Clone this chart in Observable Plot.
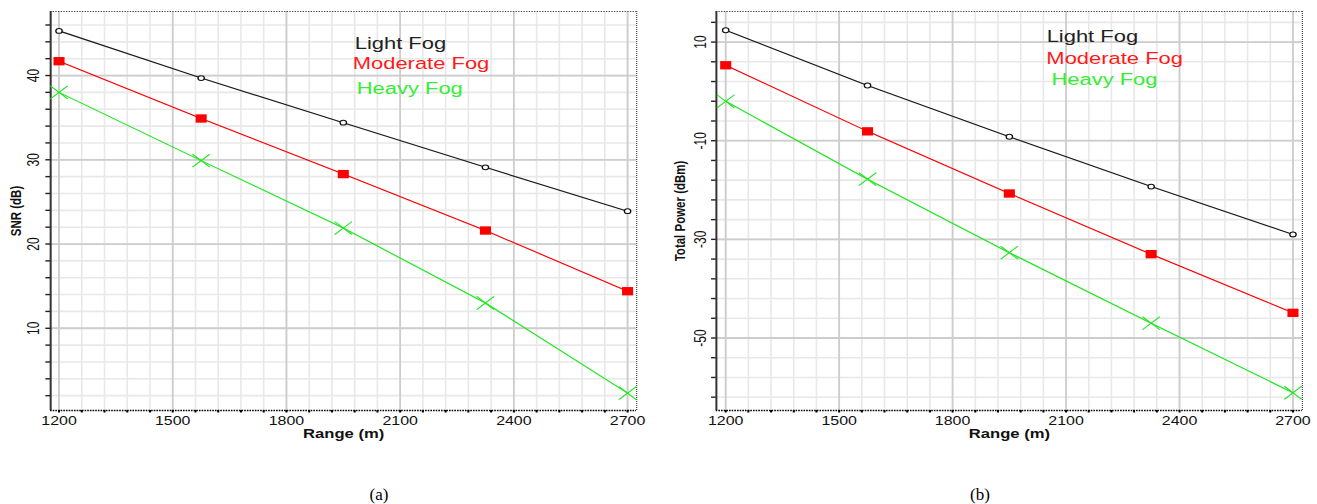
<!DOCTYPE html>
<html>
<head>
<meta charset="utf-8">
<script src="https://cdn.jsdelivr.net/npm/d3@7"></script>
<script src="https://cdn.jsdelivr.net/npm/@observablehq/plot@0.6"></script>
<style>
  html, body { margin: 0; padding: 0; background: #fff; width: 1317px; height: 504px; overflow: hidden; }
  .panel { position: absolute; top: 0; }
  .caption { position: absolute; font-family: "Liberation Serif", "Times New Roman", serif; font-size: 17px; color: #000; transform: translate(-50%, -50%); white-space: nowrap; }
</style>
</head>
<body>
<div id="a" class="panel" style="left:0px"></div>
<div id="b" class="panel" style="left:660px"></div>
<div class="caption" style="left:379px; top:495px">(a)</div>
<div class="caption" style="left:980px; top:495px">(b)</div>
<script>
// ---- data ----
const ranges = [1200, 1575, 1950, 2325, 2700];
const seriesNames = ["Light Fog", "Moderate Fog", "Heavy Fog"];
const snrLight    = [45.3, 39.7, 34.4, 29.1, 23.9];
const snrModerate = [41.7, 34.9, 28.3, 21.6, 14.4];
const snrHeavy    = [38.0, 29.9, 21.9, 13.0, 2.3];
const powLight    = [12.4, 1.2, -9.2, -19.3, -29.0];
const powModerate = [5.3, -8.1, -20.7, -33.0, -44.9];
const powHeavy    = [-2.0, -17.8, -32.7, -47.0, -61.1];
const xTickLabels = [1200, 1500, 1800, 2100, 2400, 2700];
const snrTickLabels = [10, 20, 30, 40];
const powTickLabels = [10, -10, -30, -50];

// ---- styling ----
const S = 1.33; // the original figure is stretched horizontally
const colors = ["#1a1a1a", "#ff0000", "#22e622"];
const FONT = "'Liberation Sans', Arial, sans-serif";

function rows(values) { return ranges.map((r, i) => ({range: r, value: values[i]})); }

function makeChart(cfg) {
  const [x0, x1] = cfg.xDomain;
  const [y0, y1] = cfg.yDomain;
  const minorX = d3.range(1200, 2701, 60);
  const minorY = d3.range(cfg.minorStart, y1, cfg.minorStep);
  const series = cfg.values.map(rows);
  const marks = [
    // grid
    Plot.ruleX(minorX, {x: d => d, stroke: "#e8e8e8", strokeWidth: 1.6 / S}),
    Plot.ruleY(minorY, {y: d => d, stroke: "#e8e8e8", strokeWidth: 1.6}),
    Plot.ruleX(xTickLabels, {x: d => d, stroke: "#cdcdcd", strokeWidth: 1.8 / S}),
    Plot.ruleY(cfg.yTicks, {y: d => d, stroke: "#cdcdcd", strokeWidth: 1.8}),
    // borders
    Plot.ruleY([y1], {y: d => d, stroke: "#444", strokeWidth: 1, strokeDasharray: "1,1"}),
    Plot.ruleX([x1], {x: d => d, stroke: "#444", strokeWidth: 1.2 / S, strokeDasharray: "1,1"}),
    Plot.ruleX([x0], {x: d => d, stroke: "#333", strokeWidth: 2 / S}),
    Plot.ruleY([y0], {y: d => d, stroke: "#000", strokeWidth: 1.6, strokeDasharray: "1.2,0.8"}),
    // tick marks
    Plot.axisY(minorY, {anchor: "left", tickSize: 3.5, tickFormat: () => "", label: null, stroke: "#222", strokeWidth: 1.4}),
    Plot.axisX(minorX, {anchor: "bottom", tickSize: 2.5, tickFormat: () => "", label: null, stroke: "#000", strokeWidth: 2 / S}),
    // tick labels
    Plot.text(xTickLabels, {x: d => d, text: d => String(d), frameAnchor: "bottom", dy: 14, fontSize: 12, fill: "#111", fontFamily: FONT}),
    Plot.text(cfg.yTicks, {y: d => d, text: d => String(d), frameAnchor: "left", dx: cfg.yLabelDx, rotate: -90, textAnchor: "middle", lineAnchor: "middle", fontSize: 12, fill: "#111", fontFamily: FONT}),
    // axis titles
    Plot.text([cfg.yTitle], {text: d => d, frameAnchor: "left", dx: cfg.yTitleDx, rotate: -90, textAnchor: "middle", lineAnchor: "middle", fontSize: 11.5, fontWeight: "bold", fill: "#111", fontFamily: FONT}),
    Plot.text(["Range (m)"], {text: d => d, frameAnchor: "bottom", dy: 27, fontSize: 12.5, fontWeight: "bold", fill: "#111", fontFamily: FONT}),
    // lines
    ...series.map((s, i) => Plot.line(s, {x: "range", y: "value", stroke: colors[i], strokeWidth: 1.1})),
    // markers
    Plot.dot(series[0], {x: "range", y: "value", r: 2.4, fill: "#fff", stroke: "#111", strokeWidth: 1}),
    Plot.dot(series[1], {x: "range", y: "value", symbol: "square", r: 4.7, fill: "#ff0000", stroke: "none"}),
    Plot.dot(series[2], {x: "range", y: "value", symbol: "times", r: 6, stroke: colors[2], strokeWidth: 1}),
    // legend
    ...seriesNames.map((name, i) => Plot.text([name], {text: d => d, frameAnchor: "top-left", textAnchor: "start", lineAnchor: "middle", dx: cfg.legendDx[i], dy: cfg.legendDy[i], fontSize: 16.5, fill: i === 0 ? "#222" : i === 1 ? "#ff1a1a" : "#33ee33", fontFamily: FONT}))
  ];
  const svg = Plot.plot({
    width: cfg.width,
    height: 445,
    marginLeft: cfg.marginLeft,
    marginRight: cfg.marginRight,
    marginTop: 11,
    marginBottom: 35,
    x: {domain: cfg.xDomain},
    y: {domain: cfg.yDomain},
    style: {fontFamily: FONT, background: "transparent", overflow: "visible"},
    marks
  });
  svg.style.transform = `scaleX(${S})`;
  svg.style.transformOrigin = "0 0";
  svg.style.display = "block";
  return svg;
}

document.getElementById("a").appendChild(makeChart({
  width: 489, marginLeft: 37.6, marginRight: 10.8,
  xDomain: [1178, 2724], yDomain: [0.24, 47.6],
  minorStart: 2, minorStep: 2, yTicks: snrTickLabels,
  values: [snrLight, snrModerate, snrHeavy],
  yTitle: "SNR (dB)", yTitleDx: -26.3, yLabelDx: -12.8,
  legendDx: [228.6, 227.1, 230.1], legendDy: [32, 52, 77]
}));

document.getElementById("b").appendChild(makeChart({
  width: 494, marginLeft: 41.9, marginRight: 11.5,
  xDomain: [1175.4, 2724.9], yDomain: [-64.7, 16.2],
  minorStart: -62, minorStep: 4, yTicks: powTickLabels,
  values: [powLight, powModerate, powHeavy],
  yTitle: "Total Power (dBm)", yTitleDx: -27.6, yLabelDx: -11.8,
  legendDx: [248.3, 248.1, 251.9], legendDy: [25.7, 47.3, 68.3]
}));
</script>
</body>
</html>
